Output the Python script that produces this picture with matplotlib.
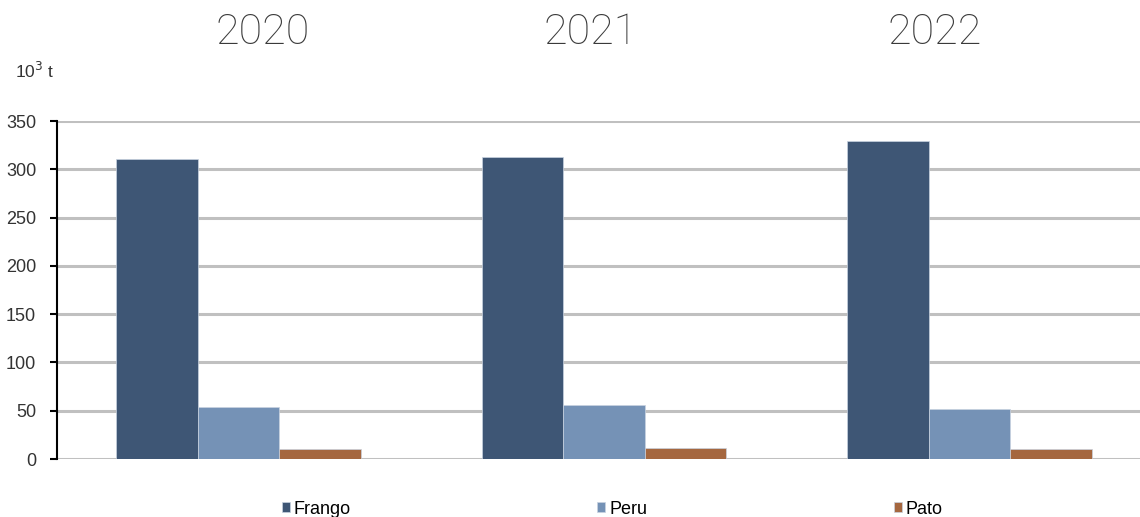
import numpy as np
import matplotlib.pyplot as plt

plt.rcParams['font.family'] = ['Liberation Sans', 'DejaVu Sans']

years = ["2020", "2021", "2022"]
series = ["Frango", "Peru", "Pato"]
frango = [310.5, 313, 329]
peru = [53.5, 55.5, 51.5]
pato = [10.5, 11, 10.5]
colors = ["#3e5675", "#7592b6", "#a5673f"]

W, H = 1140, 517
fig = plt.figure(figsize=(W / 100, H / 100), dpi=100)
ax = fig.add_axes([57 / W, (H - 459) / H, (W - 57) / W, 338 / H])

x = np.arange(len(years))
bw = 0.223
for i, (vals, c, name) in enumerate(zip([frango, peru, pato], colors, series)):
    ax.bar(x + (i - 1) * bw - 0.003, vals, width=bw, color=c, label=name,
           edgecolor="#c9d3e0", linewidth=0.5, zorder=3)

ax.set_ylim(0, 350)
ax.set_yticks(range(0, 351, 50))
ax.set_xlim(-0.5, (W - 57) / 365.5 - 0.5)
ax.set_xticks([])
ax.grid(axis="y", color="#c0c0c0", linewidth=2.2, zorder=0)
for s in ["top", "right", "bottom"]:
    ax.spines[s].set_visible(False)
ax.spines["left"].set_color("black")
ax.spines["left"].set_linewidth(1.5)
ax.spines["left"].set_zorder(4)
ax.tick_params(axis="y", length=5, width=1.5, labelsize=13, pad=10, colors="black")
ax.tick_params(axis="y", labelcolor="#333333")

# year headers
for xp, yr in zip([263, 591, 935], years):
    fig.text(xp / W, 1 - 33 / H, yr, ha="center", va="center", fontsize=31,
             family=["Roboto", "DejaVu Sans"], fontweight="light", color="#3a3a3a")

fig.text(15 / W, 1 - 71 / H, r"10$^3$ t", ha="left", va="center", fontsize=12.5, color="#333333")

fig.legend(loc="center left", bbox_to_anchor=(282 / W, 1 - 509 / H), ncol=3, frameon=False,
           fontsize=13, handlelength=0.45, handleheight=0.45, handletextpad=0.2,
           columnspacing=13.65, borderpad=0, borderaxespad=0)

fig.savefig("out.png", dpi=100)
